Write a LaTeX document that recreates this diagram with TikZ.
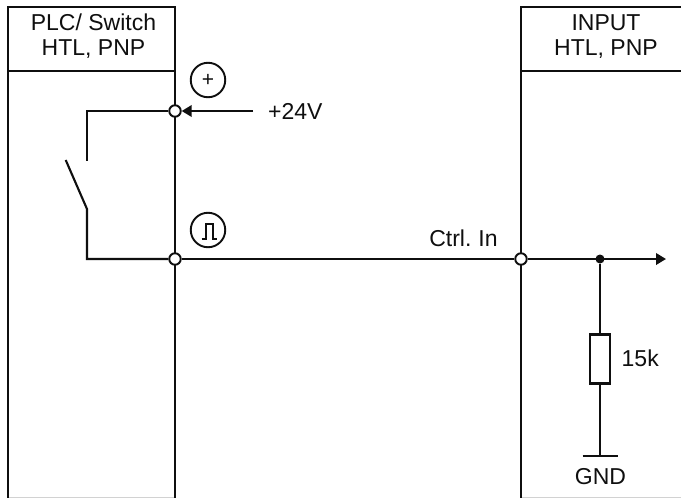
\documentclass[tikz,border=0pt]{standalone}
\usepackage{fontspec}
\setmainfont{Liberation Sans}
\usetikzlibrary{arrows.meta}
\definecolor{ink}{gray}{0.06}
\tikzset{x=1pt,y=-1pt,
 wire/.style={line width=2.1pt,draw=ink},
 lbl/.style={font=\fontsize{23}{25}\selectfont,text=ink,inner sep=0pt,align=center},
 port/.style={circle,draw=ink,fill=white,line width=1.9pt,inner sep=0pt,minimum size=11.5pt},
 badge/.style={circle,draw=ink,line width=1.9pt,inner sep=0pt,minimum size=34.5pt,font=\fontsize{21}{21}\selectfont,text=ink},
 dotn/.style={circle,fill=ink,inner sep=0pt,minimum size=9pt},
 res/.style={rectangle,draw=ink,fill=white,line width=2.1pt,minimum width=20pt,minimum height=49pt,inner sep=0pt},
 tipped/.style={-{Triangle[length=10pt,width=11.5pt]}}
}
\begin{document}
\begin{tikzpicture}
\useasboundingbox (0,0) rectangle (681,498);
\fill[white] (0,0) rectangle (681,498);
% box frames
\coordinate (lbl) at (8,497.5);
\coordinate (ltl) at (8,7);
\coordinate (ltr) at (175,7);
\coordinate (lbr) at (175,497.5);
\coordinate (lhl) at (8,71);
\coordinate (lhr) at (175,71);
\coordinate (rtl) at (521,7);
\coordinate (rte) at (681,7);
\coordinate (rhl) at (521,71);
\coordinate (rhe) at (681,71);
\coordinate (rbl) at (521,497.5);
\coordinate (rbe) at (681,497.5);
\draw[gray!35,line width=1pt] (lbl) -- (lbr) (rbl) -- (rbe);
\draw[wire] (lbl) -- (ltl) -- (ltr) -- (lbr);
\draw[wire] (lhl) -- (lhr);
\draw[wire] (rbl) -- (rtl) -- (rte);
\draw[wire] (rhl) -- (rhe);
% header labels
\node[lbl] (lefthead) at (93.5,36.5) {PLC/ Switch\\HTL, PNP};
\node[lbl] (righthead) at (606,36.5) {INPUT\\HTL, PNP};
% junctions and free ends
\coordinate (supply) at (253,111);
\coordinate (sw1) at (87,111);
\coordinate (sw2) at (87,161);
\coordinate (swfree) at (65.7,160);
\coordinate (sw3) at (87,209);
\coordinate (sw4) at (87,259);
\coordinate (outend) at (666,259);
\coordinate (gnd) at (600,456);
\coordinate (gndl) at (582.5,456);
\coordinate (gndr) at (617.5,456);
\node[port] (p1) at (175,111) {};
\node[port] (p2) at (175,259) {};
\node[port] (p3) at (521,259) {};
\node[dotn] (j) at (600,259) {};
\node[res] (r) at (600,359) {};
% wiring
\draw[wire,tipped] (supply) -- (p1.east);
\draw[wire] (p1) -- (sw1) -- (sw2);
\draw[wire] (swfree) -- (sw3) -- (sw4) -- (p2);
\draw[wire] (p2) -- (p3);
\draw[wire,tipped] (p3) -- (outend);
\draw[wire] (j) -- (r) -- (gnd);
\draw[wire] (gndl) -- (gndr);
% badges
\node[badge] (plus) at (208,80) {+};
\node[badge] (pulse) at (208,230) {};
\draw[draw=ink,line width=2pt,line join=miter] (201.5,238.5) -- (205.5,238.5) -- (205.5,224) -- (212.5,224) -- (212.5,238.5) -- (216.5,238.5);
% labels
\node[lbl,anchor=west] (v24) at (268,111) {+24V};
\node[lbl] (ctrl) at (463.5,238) {Ctrl.\hspace{-1.5pt} In};
\node[lbl,anchor=west] (k15) at (621.5,358) {15k};
\node[lbl] (gndt) at (600.5,477) {GND};
\end{tikzpicture}
\end{document}
